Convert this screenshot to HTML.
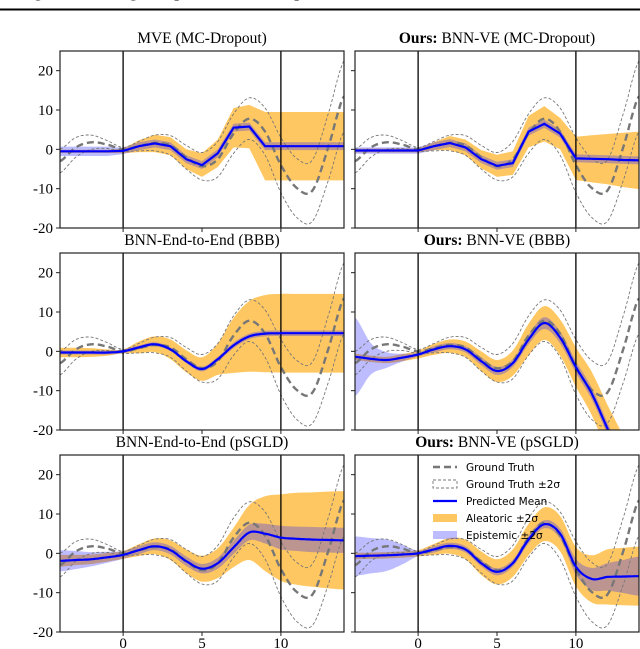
<!DOCTYPE html>
<html><head><meta charset="utf-8"><style>
html,body{margin:0;padding:0;background:#fff;width:640px;height:649px;overflow:hidden}
svg{display:block}
</style></head><body>
<svg id="fig" width="640" height="649" viewBox="0 0 640 649" xmlns="http://www.w3.org/2000/svg">
<text x="20" y="-3" font-family="Liberation Serif, serif" font-weight="bold" font-size="16" fill="#000">Figure: Learning Comparison of Decomposed Uncertainties</text>
<rect x="0" y="8.5" width="640" height="2" fill="#000"/>
</svg>
<script>
const xs = [-4,-3,-2,-1,0,1,2,3,4,5,6,7,8,9,10,11,12,13,14];
const gtMean = [-3,0.5,1.8,1.2,0,0.8,1.6,1.0,-2.0,-4.3,-2.5,4,7.8,4.5,-4,-9.8,-10.5,0.5,13.5];
const gtHw = [3,2.5,1.8,1,0.5,1.2,2,2.5,3,3.5,4.5,5,5.3,6,7,7.5,7.8,8.5,9];

const p1Mean = [-0.5,-0.5,-0.5,-0.5,-0.4,0.8,1.5,0.8,-2.5,-4,-1,5.5,5.8,0.8,0.8,0.8,0.8,0.8,0.8];
const p1Aleo = [0.4,0.4,0.4,0.4,0.6,1.5,2.2,2.3,2.5,3,3.5,5,5.5,8.7,8.7,8.7,8.7,8.7,8.7];
const p1Epi = [1.2,1.2,1.2,1.2,0.8,1,1,1,1,1,1,1,1,1,1,1,1,1,1];

const p2Mean = [-0.3,-0.3,-0.3,-0.3,-0.3,0.8,1.6,0.5,-2.5,-4.2,-3.5,4.5,6.5,4,-2.3,-2.4,-2.5,-2.7,-2.8];
const p2Aleo = [0.5,0.5,0.5,0.5,0.5,1,1.8,2,2.3,2.8,3,4,4.5,4,5.5,6,6.4,6.9,7.3];
const p2Epi = [0.8,0.8,0.8,0.8,0.8,1,1,1,1,1,1,1,1,1,1,1,1,1,1];

const p3Mean = [-0.3,-0.3,-0.3,-0.3,0,1,1.8,0.5,-2.5,-4.5,-2,1.5,3.8,4.5,4.6,4.6,4.6,4.6,4.6];
const p3Aleo = [1.2,1.2,1.1,0.8,0.5,1.5,2,2.5,2.8,3,4,7,9,9.8,10,10,10,10,10];
const p3Epi = [0.5,0.5,0.5,0.5,0.5,0.5,0.5,0.5,0.5,0.6,0.6,0.7,0.7,0.7,0.7,0.7,0.7,0.7,0.7];

const p4Mean = [-1.4,-1.9,-2.2,-1.6,-0.8,0.5,1.3,0.5,-2.5,-5,-3,3,7.2,3.5,-4,-10.7,-19.6,-28,-37];
const p4Aleo = [0.8,0.8,0.8,0.9,1,1.4,1.7,2,2.5,2.8,3.2,4,4.3,4.6,5,5.5,6,6.5,7];
const p4Epi = [10,4,2,1,0.5,0.8,0.8,0.8,1,1,1,1.2,1.5,1.5,1.5,1.5,1.5,1.5,1.5];

const p5Mean = [-1.9,-1.7,-1.5,-1,-0.4,0.8,1.8,0.8,-2,-3.9,-2.5,1.5,5.3,5,4,3.7,3.5,3.4,3.3];
const p5Aleo = [1.5,1.3,1.2,1.1,1,1.5,2,2.5,3,3.3,3.8,5,7,9.5,11,11.7,12,12.3,12.5];
const p5Epi = [2.7,2.3,1.8,1.4,1,1,1,1.1,1.2,1.2,1.4,1.7,2,2.5,3,3.1,3.2,3.2,3.2];

const p6Mean = [-0.7,-0.6,-0.5,-0.3,0,1,1.9,1,-2.5,-4.7,-2.5,3.5,7.4,5,-3.4,-6.5,-6,-5.9,-5.8];
const p6Aleo = [0.8,0.8,0.8,0.8,0.8,1.4,2,2.5,3,3.2,3.5,4,4.3,4.5,5,6,7,7.3,7.5];
const p6Epi = [5,4.5,4,2.5,0.7,0.8,0.8,0.8,0.8,0.9,0.9,1,1,1.3,2,2.8,3.5,4.2,5];

const titles = [
  ["", "MVE (MC-Dropout)"],
  ["Ours: ", "BNN-VE (MC-Dropout)"],
  ["", "BNN-End-to-End (BBB)"],
  ["Ours: ", "BNN-VE (BBB)"],
  ["", "BNN-End-to-End (pSGLD)"],
  ["Ours: ", "BNN-VE (pSGLD)"]
];
const yTicks = [-20,-10,0,10,20];
const xTicks = [0,5,10];
const legendLabels = ["Ground Truth","Ground Truth \u00b12\u03c3","Predicted Mean","Aleatoric \u00b12\u03c3","Epistemic \u00b12\u03c3"];

const panelSeries = [
  [p1Mean,p1Aleo,p1Epi,false],[p2Mean,p2Aleo,p2Epi,false],
  [p3Mean,p3Aleo,p3Epi,true],[p4Mean,p4Aleo,p4Epi,true],
  [p5Mean,p5Aleo,p5Epi,true],[p6Mean,p6Aleo,p6Epi,true]
];

const NS = "http://www.w3.org/2000/svg";
const svg = document.getElementById('fig');
function mk(tag, attrs, parent){
  const e = document.createElementNS(NS, tag);
  for (const k in attrs) e.setAttribute(k, attrs[k]);
  (parent||svg).appendChild(e);
  return e;
}
function dense(vals, smooth){
  const out=[];
  const n=vals.length;
  for(let i=0;i<n-1;i++){
    const p0=vals[Math.max(0,i-1)],p1=vals[i],p2=vals[i+1],p3=vals[Math.min(n-1,i+2)];
    const steps = smooth?10:1;
    for(let s=0;s<steps;s++){
      const t=s/steps;
      let v;
      if(smooth){
        const t2=t*t,t3=t2*t;
        v=0.5*((2*p1)+(-p0+p2)*t+(2*p0-5*p1+4*p2-p3)*t2+(-p0+3*p1-3*p2+p3)*t3);
      } else v=p1+(p2-p1)*t;
      out.push([xs[i]+(xs[i+1]-xs[i])*t, v]);
    }
  }
  out.push([xs[n-1], vals[n-1]]);
  return out;
}

const cols=[[60,344],[355,639]];
const rows=[51,253,455];
const H=177;

for(let p=0;p<6;p++){
  const c=cols[p%2], top=rows[Math.floor(p/2)];
  const sx=x=>c[0]+(x-(-4))/(18)*(c[1]-c[0]);
  const sy=y=>top+(25-y)/45*H;
  const g=mk('g',{});
  
  
  const cid='clip'+p;
  const cp=mk('clipPath',{id:cid},g);
  mk('rect',{x:c[0],y:top,width:c[1]-c[0],height:H},cp);
  const pg=mk('g',{'clip-path':'url(#'+cid+')'},g);
  const [mean,aleo,epi,smooth]=panelSeries[p];
  const line=(vals)=>dense(vals,true).map((q,i)=>(i?'L':'M')+sx(q[0]).toFixed(1)+','+sy(q[1]).toFixed(1)).join('');
  const lineS=(vals,sm)=>dense(vals,sm).map((q,i)=>(i?'L':'M')+sx(q[0]).toFixed(1)+','+sy(q[1]).toFixed(1)).join('');
  const band=(m,hw,sm)=>{
    const up=m.map((v,i)=>v+hw[i]), lo=m.map((v,i)=>v-hw[i]);
    const a=dense(up,sm), b=dense(lo,sm).reverse();
    return a.concat(b).map((q,i)=>(i?'L':'M')+sx(q[0]).toFixed(1)+','+sy(q[1]).toFixed(1)).join('')+'Z';
  };
  const ab=mk('path',{d:band(mean,aleo,smooth),fill:'#FFA500','fill-opacity':0.62},pg);
  
  
  const eb=mk('path',{d:band(mean,epi,smooth),fill:'#2020ff','fill-opacity':0.3},pg);
  
  
  const gu=gtMean.map((v,i)=>v+gtHw[i]), gl=gtMean.map((v,i)=>v-gtHw[i]);
  [gu,gl].forEach(arr=>{
    const e=mk('path',{d:line(arr),fill:'none',stroke:'#777','stroke-width':0.9,'stroke-dasharray':'3,2'},pg);
    
    
  });
  const gm=mk('path',{d:line(gtMean),fill:'none',stroke:'#777','stroke-width':2.4,'stroke-dasharray':'7,4'},pg);
  
  
  [0,10].forEach(v=>{
    const e=mk('line',{x1:sx(v),x2:sx(v),y1:top,y2:top+H,stroke:'#000','stroke-width':1.3},pg);
    
    
  });
  const pm=mk('path',{d:lineS(mean,smooth),fill:'none',stroke:'#0000ff','stroke-width':2.2},pg);
  
  
  const fr=mk('rect',{x:c[0],y:top,width:c[1]-c[0],height:H,fill:'none',stroke:'#222','stroke-width':1.2},g);
  
  
  yTicks.forEach(v=>{
    mk('line',{x1:c[0]-4,x2:c[0],y1:sy(v),y2:sy(v),stroke:'#222','stroke-width':1},g);
    if(p%2===0){
      const t=mk('text',{x:c[0]-7,y:sy(v)+5,'text-anchor':'end','font-family':'Liberation Serif, serif','font-size':15,fill:'#000'},g);
      t.textContent=String(v);
      
      
    }
  });
  xTicks.forEach(v=>{
    mk('line',{x1:sx(v),x2:sx(v),y1:top+H,y2:top+H+4,stroke:'#222','stroke-width':1},g);
    if(p>=4){
      const t=mk('text',{x:sx(v),y:648,'text-anchor':'middle','font-family':'Liberation Serif, serif','font-size':15,fill:'#000'},g);
      t.textContent=String(v);
      
      
    }
  });
  const tt=mk('text',{x:(c[0]+c[1])/2,y:top-8,'text-anchor':'middle','font-family':'Liberation Serif, serif','font-size':15.5,fill:'#000'},g);
  
  
  if(titles[p][0]){
    const b=document.createElementNS(NS,'tspan'); b.setAttribute('font-weight','bold'); b.textContent=titles[p][0]; tt.appendChild(b);
  }
  const r=document.createElementNS(NS,'tspan'); r.textContent=titles[p][1]; tt.appendChild(r);
}

const lg=mk('g',{});


const ly0=467, ldy=17, lx=433;
for(let i=0;i<5;i++){
  const y=ly0+i*ldy;
  let sw;
  if(i===0) sw=mk('line',{x1:lx,x2:lx+24,y1:y,y2:y,stroke:'#777','stroke-width':2.4,'stroke-dasharray':'7,4'},lg);
  else if(i===1) sw=mk('rect',{x:lx,y:y-4,width:24,height:8,fill:'none',stroke:'#777','stroke-width':0.9,'stroke-dasharray':'3,2'},lg);
  else if(i===2) sw=mk('line',{x1:lx,x2:lx+24,y1:y,y2:y,stroke:'#0000ff','stroke-width':2.2},lg);
  else if(i===3) sw=mk('rect',{x:lx,y:y-4,width:24,height:8,fill:'#FFA500','fill-opacity':0.62},lg);
  else sw=mk('rect',{x:lx,y:y-4,width:24,height:8,fill:'#2020ff','fill-opacity':0.3},lg);
  
  
  const t=mk('text',{x:lx+33,y:y+4,'font-family':'DejaVu Sans, sans-serif','font-size':10.5,fill:'#000'},lg);
  t.textContent=legendLabels[i];
  
  
}
</script>
</body></html>
